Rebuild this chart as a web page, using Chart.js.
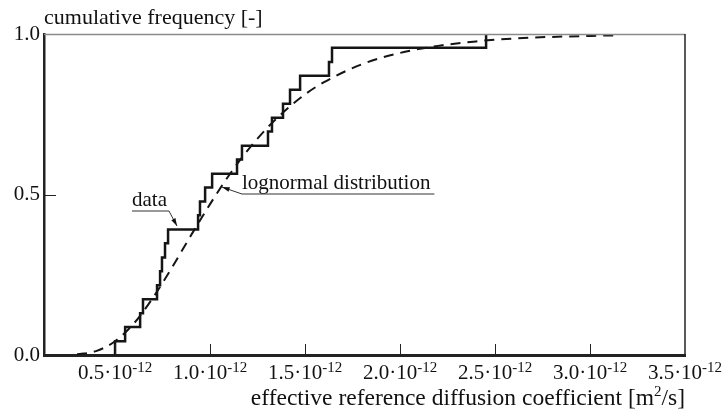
<!DOCTYPE html>
<html>
<head>
<meta charset="utf-8">
<script src="https://cdn.jsdelivr.net/npm/chart.js@4.4.0/dist/chart.umd.min.js"></script>
<style>
  html, body { margin: 0; padding: 0; background: #fff; }
  #wrap { width: 728px; height: 418px; }
</style>
</head>
<body>
<div id="wrap"><canvas id="chart"></canvas></div>
<script>
// ---------- data (x in 10^-12 m2/s) ----------
// measured values, sorted, with their cumulative frequency
const stepX = [0.500, 0.500, 0.553, 0.632, 0.647, 0.721, 0.737, 0.747, 0.763, 0.779, 0.937, 0.947, 0.974,
               1.011, 1.142, 1.168, 1.305, 1.326, 1.384, 1.421, 1.474, 1.626, 1.642, 2.453];
const stepF = [0.000, 0.043, 0.087, 0.130, 0.174, 0.217, 0.261, 0.304, 0.348, 0.391, 0.435, 0.478, 0.522,
               0.565, 0.609, 0.652, 0.696, 0.739, 0.783, 0.826, 0.870, 0.913, 0.957, 1.000];

// fitted lognormal curve
const curveX = [0.30, 0.40, 0.50, 0.60, 0.70, 0.80, 0.90, 1.00, 1.10, 1.20, 1.30, 1.40, 1.50, 1.60,
                1.80, 2.00, 2.20, 2.40, 2.60, 2.80, 3.00, 3.15];
const curveF = [0.002, 0.012, 0.043, 0.099, 0.179, 0.273, 0.373, 0.470, 0.560, 0.639, 0.707, 0.764, 0.812, 0.850,
                0.906, 0.941, 0.963, 0.977, 0.986, 0.991, 0.994, 0.996];

const xTicks = [0.5, 1.0, 1.5, 2.0, 2.5, 3.0, 3.5];
const yTicks = [0.0, 0.5, 1.0];

const FONT = "'Liberation Serif', 'Times New Roman', serif";

// ---------- frame, ticks, labels and notes ----------
const decorations = {
    id: "decorations",
    afterDraw(chart) {
        const { ctx, chartArea: a, scales: { x, y } } = chart;
        ctx.save();

        // top (grey) and right borders
        ctx.lineWidth = 1.5;
        ctx.strokeStyle = "#8a8a8a";
        ctx.beginPath();
        ctx.moveTo(a.left, a.top + 0.5);
        ctx.lineTo(a.right, a.top + 0.5);
        ctx.stroke();
        ctx.strokeStyle = "#222";
        ctx.beginPath();
        ctx.moveTo(a.right, a.top);
        ctx.lineTo(a.right, a.bottom);
        ctx.stroke();

        // inward tick marks
        ctx.lineWidth = 1;
        ctx.beginPath();
        xTicks.slice(0, -1).forEach(v => {
            const px = Math.round(x.getPixelForValue(v)) + 0.5;
            ctx.moveTo(px, a.bottom);
            ctx.lineTo(px, a.bottom - 11);
        });
        const py = Math.round(y.getPixelForValue(0.5)) + 0.5;
        ctx.moveTo(a.left, py);
        ctx.lineTo(a.left + 12, py);
        ctx.stroke();

        // x tick labels with superscript exponent
        ctx.fillStyle = "#111";
        ctx.textBaseline = "alphabetic";
        ctx.textAlign = "left";
        xTicks.forEach(v => {
            const main = v.toFixed(1) + "\u00b710";
            const sup = "-12";
            ctx.font = "21px " + FONT;
            const wm = ctx.measureText(main).width;
            ctx.font = "15px " + FONT;
            const ws = ctx.measureText(sup).width;
            const x0 = x.getPixelForValue(v) - (wm + ws) / 2;
            ctx.font = "21px " + FONT;
            ctx.fillText(main, x0, a.bottom + 24);
            ctx.font = "15px " + FONT;
            ctx.fillText(sup, x0 + wm, a.bottom + 17);
        });

        // axis titles
        ctx.font = "22px " + FONT;
        ctx.fillText("cumulative frequency [-]", a.left, a.top - 10);

        const t1 = "effective reference diffusion coefficient [m";
        const t2 = "2";
        const t3 = "/s]";
        ctx.font = "23.5px " + FONT;
        const w1 = ctx.measureText(t1).width, w3 = ctx.measureText(t3).width;
        ctx.font = "15px " + FONT;
        const w2 = ctx.measureText(t2).width;
        let tx = a.right - (w1 + w2 + w3);
        const ty = a.bottom + 50;
        ctx.font = "23.5px " + FONT;
        ctx.fillText(t1, tx, ty);
        ctx.font = "15px " + FONT;
        ctx.fillText(t2, tx + w1, ty - 9);
        ctx.font = "23.5px " + FONT;
        ctx.fillText(t3, tx + w1 + w2, ty);

        // notes with leader lines
        const note = (text, tx, ty, lineEnd, tipX, tipY, fromLeft) => {
            ctx.font = "21px " + FONT;
            const w = ctx.measureText(text).width;
            ctx.fillStyle = "#111";
            ctx.fillText(text, tx, ty);
            ctx.strokeStyle = "#333";
            ctx.lineWidth = 1;
            ctx.beginPath();
            ctx.moveTo(tx, ty + 5);
            ctx.lineTo(tx + w + lineEnd, ty + 5);
            const sx = fromLeft ? tx : tx + w + lineEnd;
            ctx.moveTo(sx, ty + 5);
            const ex = x.getPixelForValue(tipX), ey = y.getPixelForValue(tipY);
            ctx.lineTo(ex, ey);
            ctx.stroke();
            // arrow head
            const ang = Math.atan2(ey - (ty + 5), ex - sx);
            ctx.beginPath();
            ctx.moveTo(ex, ey);
            ctx.lineTo(ex - 8 * Math.cos(ang - 0.3), ey - 8 * Math.sin(ang - 0.3));
            ctx.lineTo(ex - 8 * Math.cos(ang + 0.3), ey - 8 * Math.sin(ang + 0.3));
            ctx.closePath();
            ctx.fill();
        };
        note("data", 132, 206, 2, 0.826, 0.402, false);
        note("lognormal distribution", 242, 189, 4, 1.063, 0.523, true);

        ctx.restore();
    }
};

// ---------- chart ----------
new Chart(document.getElementById("chart"), {
    type: "line",
    data: {
        datasets: [
            {
                label: "data",
                data: stepX.map((v, i) => ({ x: v, y: stepF[i] })),
                stepped: "before",
                borderColor: "#151515",
                borderWidth: 2.5,
                pointRadius: 0,
                fill: false
            },
            {
                label: "lognormal distribution",
                data: curveX.map((v, i) => ({ x: v, y: curveF[i] })),
                cubicInterpolationMode: "monotone",
                borderColor: "#151515",
                borderWidth: 2,
                borderDash: [10, 7],
                pointRadius: 0,
                fill: false
            }
        ]
    },
    options: {
        responsive: true,
        maintainAspectRatio: false,
        animation: false,
        layout: { padding: { top: 34, right: 43, bottom: 0, left: 0 } },
        plugins: { legend: { display: false }, tooltip: { enabled: false } },
        scales: {
            x: {
                type: "linear",
                min: 0.126,
                max: 3.5,
                grid: { display: false, drawTicks: false },
                border: { display: true, width: 3, color: "#222" },
                ticks: { display: false },
                afterFit(s) { s.height = 63; }
            },
            y: {
                min: 0,
                max: 1,
                afterBuildTicks(s) { s.ticks = yTicks.map(v => ({ value: v })); },
                grid: { display: false, drawTicks: false },
                border: { display: true, width: 2.5, color: "#222" },
                ticks: {
                    padding: 4,
                    color: "#111",
                    font: { family: "Liberation Serif", size: 21 },
                    callback: v => v.toFixed(1)
                },
                afterFit(s) { s.width = 44; }
            }
        }
    },
    plugins: [decorations]
});
</script>
</body>
</html>
